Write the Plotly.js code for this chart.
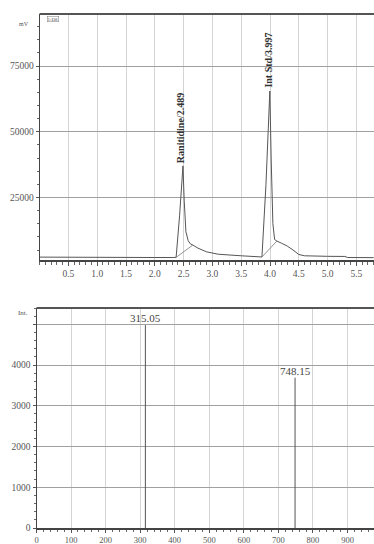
<!DOCTYPE html>
<html><head><meta charset="utf-8">
<script src="https://cdn.plot.ly/plotly-3.0.1.min.js"></script>
<style>html,body{margin:0;padding:0;background:#fff}#c{width:374px;height:544px}</style>
</head><body><div id="c"></div>
<script>
// Chromatogram (time in min, signal)
const chromTime   = [0, 0.5, 1.0, 1.5, 2.0, 2.3, 2.37, 2.43, 2.489, 2.51, 2.54, 2.58, 2.62, 2.66, 2.75, 2.9, 3.1, 3.5, 3.86, 3.93, 3.997, 4.02, 4.05, 4.08, 4.12, 4.2, 4.3, 4.4, 4.5, 4.6, 4.75, 5.0, 5.3, 5.35, 5.8];
const chromSignal = [2300, 2200, 2150, 2150, 2150, 2150, 2200, 18000, 37000, 24000, 12000, 8500, 7300, 6900, 5700, 4300, 3400, 2800, 2350, 30000, 65500, 40000, 15000, 9000, 8400, 7600, 6500, 5000, 3300, 2800, 2650, 2600, 2550, 2150, 2100];
// integration baselines (start, end of each drawn baseline segment)
const baseTime   = [2.37, 2.66, null, 3.86, 4.12];
const baseSignal = [2200, 6900, null, 2350, 8400];
// peak labels
const peakNames = ["Ranitidine/2.489", "Int Std/3.997"];
const peakTimes = [2.489, 3.997];
const peakTops  = [37000, 65500];
// chromatogram tick labels
const chromXTicks = [0.5, 1.0, 1.5, 2.0, 2.5, 3.0, 3.5, 4.0, 4.5, 5.0, 5.5];
const chromXText  = ["0.5","1.0","1.5","2.0","2.5","3.0","3.5","4.0","4.5","5.0","5.5"];
const chromYTicks = [25000, 50000, 75000];
const chromYText  = ["25000", "50000", "75000"];

// Mass spectrum (m/z, intensity)
const msMz  = [315.05, 748.15];
const msInt = [4980, 3690];
const msXTicks = [0,100,200,300,400,500,600,700,800,900];
const msYTicks = [0,1000,2000,3000,4000,5000];
const msYText  = ["0","1000","2000","3000","4000",""];

// build stick trace from spectrum arrays
const stickX = [], stickY = [];
msMz.forEach((m,i)=>{ stickX.push(m,m,null); stickY.push(0,msInt[i],null); });

const serif = "Liberation Serif, Times New Roman, serif";
const lineCol = "#555";
const tickFont = {family: serif, size: 9.5, color: "#555"};

const traces = [
  {x: chromTime, y: chromSignal, type: "scatter", mode: "lines", line: {color: lineCol, width: 1}, xaxis: "x", yaxis: "y", hoverinfo: "skip"},
  {x: baseTime, y: baseSignal, type: "scatter", mode: "lines", line: {color: "#777", width: 0.8}, xaxis: "x", yaxis: "y", connectgaps: false, hoverinfo: "skip"},
  {x: stickX, y: stickY, type: "scatter", mode: "lines", line: {color: lineCol, width: 1}, xaxis: "x2", yaxis: "y2", connectgaps: false, hoverinfo: "skip"}
];

const annotations = [];
peakNames.forEach((n,i)=>{
  annotations.push({x: peakTimes[i] - 0.03, y: peakTops[i], xref: "x", yref: "y", text: "<b>"+n+"</b>", showarrow: false, textangle: -90, yanchor: "bottom", xanchor: "center", yshift: 1, font: {family: serif, size: 10, color: "#333"}});
});
msMz.forEach((m,i)=>{
  annotations.push({x: m, y: msInt[i], xref: "x2", yref: "y2", text: m.toFixed(2), showarrow: false, yanchor: "bottom", xanchor: "center", yshift: -1, font: {family: serif, size: 11, color: "#444"}});
});
annotations.push({x: 17, y: 19, xref: "paper", yref: "paper", text: "mV", showarrow: false, font: {family: serif, size: 6, color: "#555"}});
annotations.push({x: 16, y: 313, xref: "paper", yref: "paper", text: "Int.", showarrow: false, font: {family: serif, size: 7, color: "#555"}});
annotations.push({x: 47, y: 16, xref: "paper", yref: "paper", text: "1:D8", showarrow: false, font: {family: serif, size: 5, color: "#555"}, bordercolor: "#777", borderwidth: 0.5, borderpad: 0});
// convert pixel positions of paper annotations
const W = 374, H = 544;
annotations.forEach(a=>{ if(a.xref==="paper"){ a.x = a.x/W; a.y = 1 - a.y/H; } });

const layout = {
  width: W, height: H,
  margin: {l: 0, r: 0, t: 0, b: 0},
  paper_bgcolor: "#fff", plot_bgcolor: "#fff",
  showlegend: false,
  xaxis: {domain: [39.6/W, 1], range: [0, (W-39.6)/57.6], anchor: "y",
    tickvals: chromXTicks, ticktext: chromXText, ticks: "outside", ticklen: 4, tickcolor: "#555",
    minor: {dtick: 0.1, tick0: 0, ticks: "outside", ticklen: 3, tickcolor: "#666", showgrid: false},
    showgrid: true, gridcolor: "#d4d4d4", gridwidth: 1, zeroline: false,
    showline: true, linecolor: "#444", linewidth: 1.5, tickfont: tickFont},
  yaxis: {domain: [1-260/H, 1-14/H], range: [1200, 94800], anchor: "x",
    tickvals: chromYTicks, ticktext: chromYText, ticks: "outside", ticklen: 3, tickcolor: "#555",
    minor: {dtick: 5000, tick0: 0, ticks: "outside", ticklen: 2, tickcolor: "#666", showgrid: false},
    showgrid: true, gridcolor: "#a0a0a0", gridwidth: 1, zeroline: false,
    showline: true, linecolor: "#444", linewidth: 1, tickfont: tickFont},
  xaxis2: {domain: [36.5/W, 1], range: [0, (W-36.5)/0.3456], anchor: "y2",
    tickvals: msXTicks, ticks: "outside", ticklen: 3, tickcolor: "#555",
    minor: {dtick: 20, tick0: 0, ticks: "outside", ticklen: 2, tickcolor: "#666", showgrid: false},
    showgrid: true, gridcolor: "#d4d4d4", gridwidth: 1, zeroline: false,
    showline: true, linecolor: "#444", linewidth: 2, tickfont: {family: serif, size: 8.5, color: "#555"}},
  yaxis2: {domain: [1-528/H, 1-308/H], range: [0, 5400], anchor: "x2",
    tickvals: msYTicks, ticktext: msYText, ticks: "outside", ticklen: 3, tickcolor: "#555",
    minor: {dtick: 200, tick0: 0, ticks: "outside", ticklen: 2, tickcolor: "#666", showgrid: false},
    showgrid: true, gridcolor: "#a0a0a0", gridwidth: 1, zeroline: false,
    showline: true, linecolor: "#444", linewidth: 1, tickfont: tickFont},
  shapes: [
    {type: "line", xref: "x domain", yref: "y domain", x0: 0, x1: 1, y0: 1, y1: 1, line: {color: "#555", width: 2}},
    {type: "line", xref: "x2 domain", yref: "y2 domain", x0: 0, x1: 1, y0: 1, y1: 1, line: {color: "#555", width: 2}}
  ],
  annotations: annotations
};

Plotly.newPlot("c", traces, layout, {staticPlot: true, displayModeBar: false});
</script></body></html>
